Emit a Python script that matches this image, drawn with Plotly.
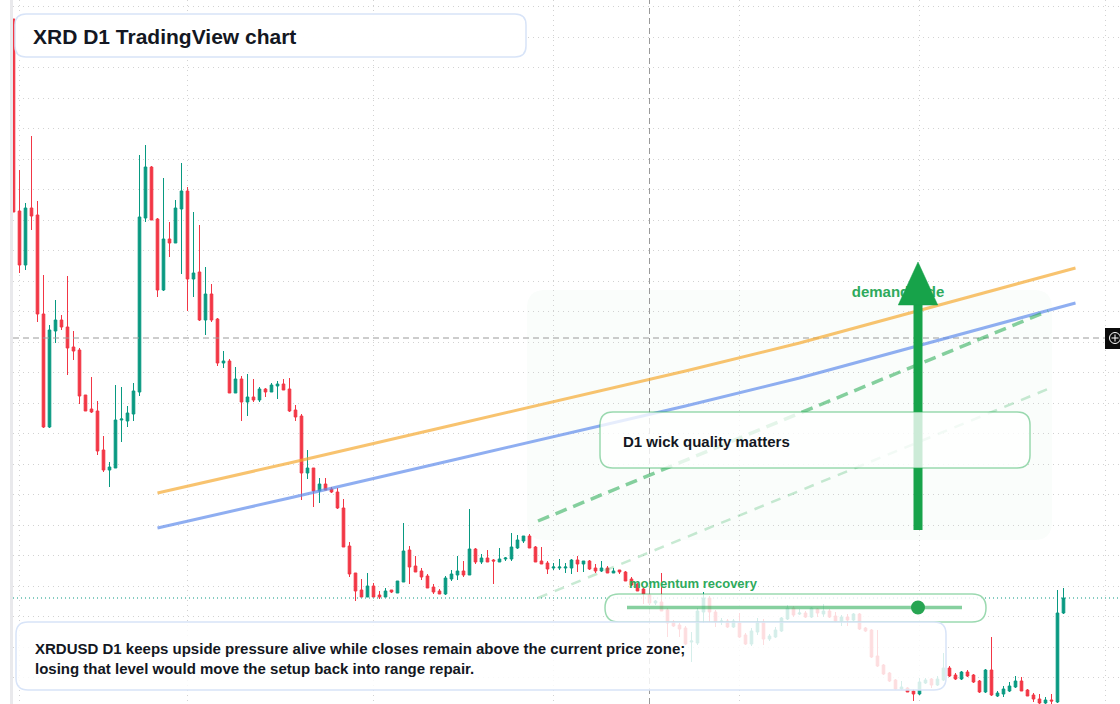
import pandas as pd
import plotly.graph_objects as go

# ---------------- data ----------------
dates = pd.date_range("2025-01-31", periods=176, freq="D")

opens = [0.0835,0.0643,0.0589,0.0646,0.0639,0.0540,0.0427,0.0523,0.0534,0.0527,0.0507,0.0504,0.0459,0.0445,0.0443,0.0404,
0.0384,0.0386,0.0434,0.0433,0.0440,0.0462,0.0636,0.0687,0.0635,0.0564,0.0615,0.0611,0.0645,0.0663,0.0575,0.0582,
0.0534,0.0560,0.0535,0.0491,0.0493,0.0461,0.0475,0.0452,0.0457,0.0454,0.0465,0.0462,0.0468,0.0470,0.0465,0.0444,
0.0438,0.0381,0.0386,0.0363,0.0370,0.0365,0.0362,0.0346,0.0308,0.0281,0.0264,0.0257,0.0268,0.0259,0.0257,0.0264,
0.0261,0.0272,0.0304,0.0288,0.0283,0.0278,0.0267,0.0263,0.0260,0.0275,0.0279,0.0283,0.0279,0.0305,0.0292,0.0296,
0.0294,0.0292,0.0295,0.0295,0.0306,0.0313,0.0318,0.0307,0.0293,0.0291,0.0286,0.0286,0.0286,0.0286,0.0294,0.0290,
0.0293,0.0286,0.0283,0.0286,0.0281,0.0284,0.0282,0.0275,0.0270,0.0265,0.0259,0.0251,0.0252,0.0244,0.0232,0.0229,
0.0226,0.0212,0.0211,0.0242,0.0256,0.0242,0.0232,0.0233,0.0227,0.0231,0.0219,0.0210,0.0222,0.0232,0.0215,0.0217,
0.0223,0.0235,0.0246,0.0240,0.0241,0.0237,0.0245,0.0240,0.0243,0.0238,0.0233,0.0237,0.0234,0.0240,0.0226,0.0224,
0.0198,0.0189,0.0181,0.0174,0.0165,0.0166,0.0163,0.0160,0.0171,0.0175,0.0169,0.0174,0.0186,0.0179,0.0175,0.0182,
0.0179,0.0173,0.0162,0.0184,0.0158,0.0160,0.0163,0.0167,0.0173,0.0164,0.0159,0.0155,0.0151,0.0154,0.0152,0.0241]

highs = [0.0835,0.0684,0.0651,0.0718,0.0653,0.0579,0.0529,0.0554,0.0539,0.0578,0.0523,0.0506,0.0459,0.0477,0.0453,0.0418,
0.0392,0.0469,0.0467,0.0448,0.0471,0.0699,0.0709,0.0688,0.0636,0.0676,0.0632,0.0654,0.0691,0.0667,0.0642,0.0629,
0.0587,0.0570,0.0536,0.0503,0.0495,0.0487,0.0478,0.0480,0.0475,0.0467,0.0466,0.0471,0.0473,0.0475,0.0476,0.0449,
0.0440,0.0404,0.0386,0.0376,0.0376,0.0367,0.0366,0.0355,0.0312,0.0281,0.0275,0.0281,0.0271,0.0263,0.0266,0.0264,
0.0273,0.0331,0.0308,0.0298,0.0286,0.0280,0.0270,0.0265,0.0278,0.0284,0.0298,0.0293,0.0345,0.0306,0.0300,0.0304,
0.0295,0.0306,0.0297,0.0321,0.0319,0.0318,0.0320,0.0308,0.0307,0.0293,0.0291,0.0295,0.0291,0.0295,0.0298,0.0293,
0.0294,0.0290,0.0293,0.0288,0.0286,0.0284,0.0283,0.0277,0.0271,0.0266,0.0260,0.0254,0.0281,0.0246,0.0234,0.0231,
0.0228,0.0222,0.0246,0.0262,0.0258,0.0244,0.0236,0.0235,0.0235,0.0241,0.0221,0.0226,0.0236,0.0235,0.0220,0.0227,
0.0237,0.0249,0.0248,0.0245,0.0243,0.0247,0.0246,0.0250,0.0245,0.0242,0.0239,0.0240,0.0241,0.0241,0.0227,0.0225,
0.0224,0.0190,0.0182,0.0175,0.0173,0.0167,0.0165,0.0176,0.0176,0.0176,0.0178,0.0201,0.0188,0.0181,0.0183,0.0184,
0.0180,0.0174,0.0185,0.0217,0.0163,0.0168,0.0172,0.0178,0.0177,0.0165,0.0161,0.0160,0.0157,0.0160,0.0264,0.0266]

lows = [0.0642,0.0581,0.0584,0.0624,0.0532,0.0426,0.0426,0.0511,0.0524,0.0479,0.0494,0.0450,0.0443,0.0441,0.0399,0.0382,
0.0367,0.0386,0.0412,0.0427,0.0433,0.0458,0.0632,0.0634,0.0557,0.0563,0.0597,0.0611,0.0580,0.0543,0.0557,0.0533,
0.0519,0.0532,0.0488,0.0486,0.0461,0.0461,0.0433,0.0438,0.0452,0.0452,0.0457,0.0462,0.0455,0.0464,0.0442,0.0433,
0.0354,0.0375,0.0347,0.0351,0.0364,0.0361,0.0345,0.0307,0.0277,0.0253,0.0257,0.0257,0.0257,0.0255,0.0257,0.0261,
0.0261,0.0272,0.0270,0.0282,0.0274,0.0266,0.0260,0.0260,0.0259,0.0273,0.0274,0.0277,0.0279,0.0290,0.0290,0.0292,
0.0270,0.0292,0.0293,0.0293,0.0305,0.0311,0.0306,0.0292,0.0290,0.0280,0.0284,0.0284,0.0281,0.0280,0.0282,0.0282,
0.0284,0.0281,0.0282,0.0281,0.0281,0.0280,0.0273,0.0268,0.0263,0.0250,0.0249,0.0249,0.0243,0.0217,0.0227,0.0217,
0.0209,0.0192,0.0209,0.0231,0.0232,0.0227,0.0229,0.0226,0.0226,0.0216,0.0209,0.0208,0.0219,0.0209,0.0213,0.0216,
0.0222,0.0234,0.0237,0.0239,0.0236,0.0236,0.0237,0.0237,0.0236,0.0232,0.0228,0.0228,0.0233,0.0224,0.0222,0.0196,
0.0187,0.0179,0.0172,0.0164,0.0164,0.0162,0.0153,0.0159,0.0170,0.0166,0.0168,0.0173,0.0177,0.0174,0.0174,0.0177,
0.0171,0.0161,0.0161,0.0158,0.0157,0.0157,0.0162,0.0166,0.0163,0.0158,0.0152,0.0150,0.0150,0.0150,0.0151,0.0240]

closes = [0.0642,0.0589,0.0646,0.0638,0.0540,0.0427,0.0524,0.0534,0.0527,0.0506,0.0503,0.0458,0.0443,0.0442,0.0403,0.0384,
0.0387,0.0434,0.0435,0.0441,0.0463,0.0637,0.0687,0.0634,0.0564,0.0615,0.0611,0.0646,0.0663,0.0575,0.0581,0.0534,
0.0560,0.0534,0.0491,0.0493,0.0461,0.0475,0.0452,0.0457,0.0454,0.0465,0.0462,0.0469,0.0470,0.0464,0.0443,0.0437,
0.0381,0.0386,0.0363,0.0370,0.0364,0.0362,0.0346,0.0307,0.0280,0.0263,0.0257,0.0268,0.0257,0.0257,0.0263,0.0262,
0.0273,0.0303,0.0287,0.0282,0.0277,0.0266,0.0262,0.0260,0.0276,0.0280,0.0283,0.0279,0.0305,0.0292,0.0296,0.0292,
0.0293,0.0295,0.0296,0.0307,0.0314,0.0318,0.0306,0.0292,0.0290,0.0285,0.0287,0.0287,0.0287,0.0294,0.0290,0.0293,
0.0285,0.0283,0.0286,0.0281,0.0283,0.0282,0.0273,0.0269,0.0263,0.0260,0.0251,0.0253,0.0243,0.0231,0.0228,0.0225,
0.0210,0.0213,0.0243,0.0256,0.0242,0.0232,0.0233,0.0227,0.0233,0.0217,0.0210,0.0223,0.0232,0.0215,0.0218,0.0224,
0.0236,0.0246,0.0239,0.0241,0.0237,0.0246,0.0241,0.0243,0.0237,0.0233,0.0237,0.0234,0.0240,0.0225,0.0223,0.0197,
0.0188,0.0180,0.0173,0.0165,0.0167,0.0162,0.0160,0.0172,0.0174,0.0169,0.0175,0.0186,0.0178,0.0175,0.0182,0.0178,
0.0172,0.0162,0.0184,0.0159,0.0161,0.0165,0.0168,0.0173,0.0163,0.0158,0.0155,0.0151,0.0154,0.0153,0.0241,0.0256]

# trend channel (orange upper, blue lower)
trend_dates = ["2025-02-24", "2025-03-18", "2025-04-15", "2025-05-23", "2025-06-11", "2025-07-27"]
upper_trend = [0.0361, 0.0391, 0.0430, 0.0483, 0.0511, 0.0586]
lower_trend = [0.0326, 0.0356, 0.0395, 0.0448, 0.0476, 0.0551]

# projected demand paths (green dashed)
proj_dates = ["2025-04-28 10:00", "2025-07-22 10:00"]
proj_main = [0.0333, 0.0543]
proj_soft = [0.0256, 0.0465]

# arrow (demand-side push)
arrow_date = "2025-06-30 18:00"
arrow_from = 0.0324
arrow_to = 0.0592
label_date = "2025-06-27 10:00"
label_price = 0.0561

last_price = 0.0256
cross_date = "2025-05-17"
cross_price = 0.0516

# ---------------- styling ----------------
GREEN = "#089981"
RED = "#f23645"
TXT = "#131722"
FONT = "Liberation Sans, Arial, sans-serif"

W, H, LM = 1120, 704, 13


def X(px):
    return (px - LM) / (W - LM)


def Y(py):
    return (H - py) / H


def rrect(x0, y0, x1, y1, r):
    return (f"M {X(x0+r)},{Y(y0)} L {X(x1-r)},{Y(y0)} Q {X(x1)},{Y(y0)} {X(x1)},{Y(y0+r)} "
            f"L {X(x1)},{Y(y1-r)} Q {X(x1)},{Y(y1)} {X(x1-r)},{Y(y1)} "
            f"L {X(x0+r)},{Y(y1)} Q {X(x0)},{Y(y1)} {X(x0)},{Y(y1-r)} "
            f"L {X(x0)},{Y(y0+r)} Q {X(x0)},{Y(y0)} {X(x0+r)},{Y(y0)} Z")


fig = go.Figure()

fig.add_trace(go.Candlestick(
    x=dates, open=opens, high=highs, low=lows, close=closes,
    increasing=dict(line=dict(color=GREEN, width=1), fillcolor=GREEN),
    decreasing=dict(line=dict(color=RED, width=1), fillcolor=RED),
    whiskerwidth=0, hoverinfo="skip", showlegend=False,
))

x_lo = pd.Timestamp("2025-01-30 22:00")
x_hi = pd.Timestamp("2025-08-03 10:00")

# crosshair + last price line
fig.add_trace(go.Scatter(x=[cross_date, cross_date], y=[0.010, 0.090], mode="lines",
                         line=dict(color="#9a9a9a", width=1, dash="6px,4px"),
                         hoverinfo="skip", showlegend=False))
fig.add_trace(go.Scatter(x=[x_lo, pd.Timestamp("2025-07-31 22:00")], y=[cross_price, cross_price], mode="lines",
                         line=dict(color="#9a9a9a", width=1, dash="6px,4px"),
                         hoverinfo="skip", showlegend=False))
fig.add_trace(go.Scatter(x=[x_lo, x_hi], y=[last_price, last_price], mode="lines",
                         line=dict(color=GREEN, width=1, dash="1px,3px"),
                         hoverinfo="skip", showlegend=False))

# trend lines
fig.add_trace(go.Scatter(x=trend_dates, y=upper_trend, mode="lines",
                         line=dict(color="rgba(245,170,50,0.7)", width=3),
                         hoverinfo="skip", showlegend=False))
fig.add_trace(go.Scatter(x=trend_dates, y=lower_trend, mode="lines",
                         line=dict(color="rgba(96,140,235,0.7)", width=3),
                         hoverinfo="skip", showlegend=False))
fig.add_trace(go.Scatter(x=proj_dates, y=proj_main, mode="lines",
                         line=dict(color="rgba(34,170,80,0.55)", width=3.5, dash="12px,7px"),
                         hoverinfo="skip", showlegend=False))
fig.add_trace(go.Scatter(x=proj_dates, y=proj_soft, mode="lines",
                         line=dict(color="rgba(34,170,80,0.25)", width=2.5, dash="10px,8px"),
                         hoverinfo="skip", showlegend=False))

# demand-side label (under the arrow head)
fig.add_trace(go.Scatter(x=[label_date], y=[label_price], mode="text",
                         text=["<b>demand-side</b>"], textposition="middle center",
                         textfont=dict(family=FONT, size=15, color="#2eaa5c"),
                         hoverinfo="skip", showlegend=False))

# arrow
ad = pd.Timestamp(arrow_date)
half = pd.Timedelta(hours=79)
head_base = arrow_to - 0.0043
fig.add_trace(go.Scatter(x=[ad, ad], y=[arrow_from, head_base + 0.0002], mode="lines",
                         line=dict(color="#17a34a", width=9),
                         hoverinfo="skip", showlegend=False))
fig.add_trace(go.Scatter(x=[ad - half, ad + half, ad, ad - half],
                         y=[head_base, head_base, arrow_to, head_base],
                         mode="lines", fill="toself", fillcolor="#17a34a",
                         line=dict(color="#17a34a", width=0.5),
                         hoverinfo="skip", showlegend=False))

shapes = []
# faint demand zone
shapes.append(dict(type="path", xref="paper", yref="paper", layer="below",
                   path=rrect(527, 290, 1052, 540, 18),
                   fillcolor="rgba(40,180,90,0.022)", line=dict(width=0)))
# left border band
shapes.append(dict(type="rect", xref="paper", yref="paper", layer="above",
                   x0=X(10), x1=X(13), y0=0, y1=1,
                   fillcolor="#e9e9ec", line=dict(width=0)))
# pill
shapes.append(dict(type="path", xref="paper", yref="paper", layer="above",
                   path=rrect(605, 594, 986, 622, 14),
                   fillcolor="rgba(255,255,255,0.82)",
                   line=dict(color="rgba(34,170,80,0.45)", width=1.5)))
shapes.append(dict(type="line", xref="paper", yref="paper", layer="above",
                   x0=X(627), x1=X(962), y0=Y(607.5), y1=Y(607.5),
                   line=dict(color="rgba(34,170,80,0.55)", width=3.5)))
shapes.append(dict(type="circle", xref="paper", yref="paper", layer="above",
                   x0=X(911), x1=X(925), y0=Y(614.5), y1=Y(600.5),
                   fillcolor="#27a552", line=dict(width=0)))
# D1 box
shapes.append(dict(type="path", xref="paper", yref="paper", layer="above",
                   path=rrect(600, 412, 1030, 468, 13),
                   fillcolor="rgba(255,255,255,0.78)",
                   line=dict(color="rgba(34,170,80,0.45)", width=1.5)))
# bottom text box
shapes.append(dict(type="path", xref="paper", yref="paper", layer="above",
                   path=rrect(16, 622, 946, 690, 12),
                   fillcolor="rgba(255,255,255,0.83)",
                   line=dict(color="#d8e4f8", width=1.5)))
# title box
shapes.append(dict(type="path", xref="paper", yref="paper", layer="above",
                   path=rrect(15, 14, 526, 57, 11),
                   fillcolor="rgba(255,255,255,0.97)",
                   line=dict(color="#d8e4f8", width=1.5)))
# crosshair icon on the right edge
shapes.append(dict(type="rect", xref="paper", yref="paper", layer="above",
                   x0=X(1105), x1=X(1122), y0=Y(349), y1=Y(328),
                   fillcolor="#0b0b0b", line=dict(width=0)))
shapes.append(dict(type="circle", xref="paper", yref="paper", layer="above",
                   x0=X(1109.5), x1=X(1120.5), y0=Y(343.5), y1=Y(332.5),
                   fillcolor="rgba(0,0,0,0)", line=dict(color="white", width=1)))
shapes.append(dict(type="line", xref="paper", yref="paper", layer="above",
                   x0=X(1111.5), x1=X(1118.5), y0=Y(338), y1=Y(338),
                   line=dict(color="white", width=1)))
shapes.append(dict(type="line", xref="paper", yref="paper", layer="above",
                   x0=X(1115), x1=X(1115), y0=Y(334.5), y1=Y(341.5),
                   line=dict(color="white", width=1)))

annotations = [
    dict(xref="paper", yref="paper", x=X(31), y=Y(36), xanchor="left", yanchor="middle",
         text="<b>XRD D1 TradingView chart</b>", showarrow=False,
         font=dict(family=FONT, size=21, color=TXT)),
    dict(xref="paper", yref="paper", x=X(33), y=Y(658), xanchor="left", yanchor="middle",
         align="left", showarrow=False,
         text="<b>XRDUSD D1 keeps upside pressure alive while closes remain above the current price zone;</b><br>"
              "<b>losing that level would move the setup back into range repair.</b>",
         font=dict(family=FONT, size=15, color=TXT)),
    dict(xref="paper", yref="paper", x=X(621), y=Y(441), xanchor="left", yanchor="middle",
         text="<b>D1 wick quality matters</b>", showarrow=False,
         font=dict(family=FONT, size=15, color=TXT)),
    dict(xref="paper", yref="paper", x=X(627), y=Y(583), xanchor="left", yanchor="middle",
         text="<b>momentum recovery</b>", showarrow=False,
         font=dict(family=FONT, size=13, color="#2eaa5c")),
]

fig.update_layout(
    width=W, height=H,
    margin=dict(l=LM, r=0, t=0, b=0),
    paper_bgcolor="white", plot_bgcolor="white",
    showlegend=False, boxgap=0.38,
    shapes=shapes, annotations=annotations,
    xaxis=dict(type="date", range=[x_lo, x_hi], showticklabels=False, ticks="",
               showgrid=True, gridcolor="#d2d2d2", griddash="1px,4px", gridwidth=1,
               dtick="M1", tick0="2025-02-01", zeroline=False, showline=False,
               rangeslider=dict(visible=False), fixedrange=True),
    yaxis=dict(range=[0.0150, 0.0854], showticklabels=False, ticks="",
               showgrid=True, gridcolor="#d2d2d2", griddash="1px,4px", gridwidth=1,
               tick0=0.08475, dtick=0.00305, zeroline=False, showline=False, fixedrange=True),
    hovermode=False,
)

fig.write_html("out.html", config={"displayModeBar": False})
